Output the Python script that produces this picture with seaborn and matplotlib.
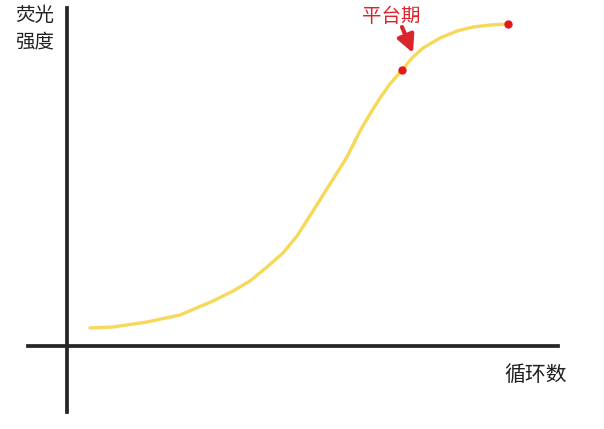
import numpy as np
import pandas as pd
import seaborn as sns
import matplotlib.pyplot as plt

# ==================== DATA ====================
# PCR amplification curve (cycle vs fluorescence, arbitrary units)
cycles = [2.3, 4.6, 8.0, 11.3, 14.6, 16.6, 18.3, 20.0, 21.6, 23.0, 24.6, 26.3, 28.0,
          29.3, 30.3, 31.3, 32.3, 33.5, 34.6, 35.6, 37.3, 39.0, 40.6, 42.3, 44.1]
fluorescence = [1.8, 1.9, 2.4, 3.1, 4.5, 5.5, 6.5, 7.9, 9.3, 11.0, 13.5, 16.2, 18.9,
                21.5, 23.2, 24.8, 26.2, 27.6, 28.9, 29.8, 30.8, 31.5, 31.9, 32.1, 32.2]

# plateau start / end markers
plateau_x = [33.5, 44.1]
plateau_y = [27.6, 32.2]

y_label = "荧光\n强度"
x_label = "循环数"
plateau_label = "平台期"

curve = pd.DataFrame({"cycle": cycles, "fluorescence": fluorescence})

# ==================== PLOT ====================
sns.set_style("white")
plt.rcParams["font.family"] = ["Noto Sans CJK SC", "DejaVu Sans"]

fig = plt.figure(figsize=(6.04, 4.29), dpi=100)
ax = fig.add_axes([0, 0, 1, 1])
ax.set_xlim(-6.7, 53.7)
ax.set_ylim(-8.3, 34.6)

# pencil-like axes crossing at the origin
axis_color = "#262626"
for side in ["top", "right"]:
    ax.spines[side].set_visible(False)
ax.spines["left"].set_position(("data", 0))
ax.spines["bottom"].set_position(("data", 0))
ax.spines["left"].set_bounds(-6.6, 33.8)
ax.spines["bottom"].set_bounds(-3.9, 49.1)
for side in ["left", "bottom"]:
    ax.spines[side].set_color(axis_color)
    ax.spines[side].set_linewidth(2.7)
ax.set_xticks([])
ax.set_yticks([])
ax.set_xlabel("")
ax.set_ylabel("")
ax.patch.set_alpha(0)

sns.lineplot(data=curve, x="cycle", y="fluorescence", ax=ax,
             color="#f6d95a", linewidth=2.4, sort=False, solid_capstyle="round")
ax.plot(plateau_x, plateau_y, "o", color="#e5161c", markersize=5, linestyle="none")

# annotation for the plateau
red = "#d8262c"
ax.annotate("", xy=(plateau_x[0] + 1.1, plateau_y[0] + 1.7),
            xytext=(plateau_x[0], plateau_y[0] + 4.3),
            arrowprops=dict(arrowstyle="-|>", color=red, lw=3, mutation_scale=26,
                            shrinkA=0, shrinkB=0))
ax.text(32.4, 33.0, plateau_label, color=red, fontsize=14, ha="center", va="center")

fig.text(15 / 604, 1 - 5 / 429, y_label, fontsize=14, ha="left", va="top",
         linespacing=1.35, color="#222222")
fig.text(504 / 604, 1 - 375 / 429, x_label, fontsize=15, ha="left", va="center",
         color="#222222")

plt.savefig("out.png", dpi=100)
plt.close()
